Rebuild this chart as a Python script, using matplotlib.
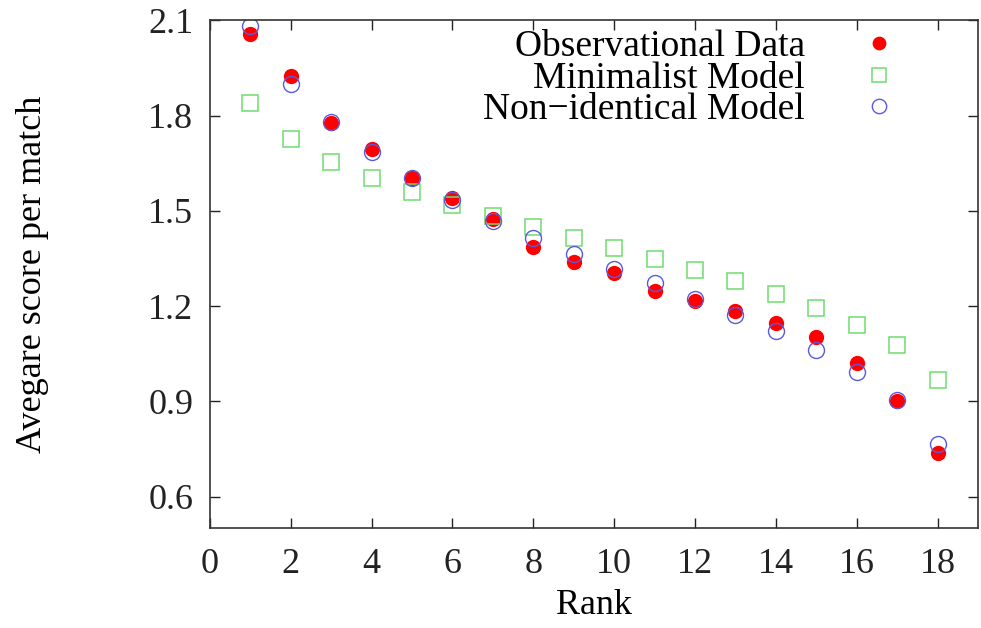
import matplotlib
matplotlib.use("Agg")
import matplotlib.pyplot as plt
import numpy as np

# rank 1..18
rank = np.arange(1, 19)

observed = [2.056, 1.924, 1.775, 1.694, 1.604, 1.539, 1.473, 1.385, 1.340,
            1.304, 1.248, 1.217, 1.183, 1.145, 1.101, 1.020, 0.901, 0.738]
minimalist = [1.838, 1.726, 1.653, 1.604, 1.559, 1.517, 1.485, 1.448, 1.415,
              1.382, 1.348, 1.314, 1.278, 1.238, 1.194, 1.141, 1.076, 0.967]
non_identical = [2.082, 1.899, 1.780, 1.685, 1.602, 1.533, 1.469, 1.415, 1.364,
                 1.317, 1.271, 1.221, 1.173, 1.122, 1.062, 0.993, 0.904, 0.764]

x_ticks = [0, 2, 4, 6, 8, 10, 12, 14, 16, 18]
y_ticks = [0.6, 0.9, 1.2, 1.5, 1.8, 2.1]

plt.rcParams["font.family"] = ["Liberation Serif", "DejaVu Serif"]
plt.rcParams["font.size"] = 26

fig = plt.figure(figsize=(9.81, 6.28), dpi=100)
ax = fig.add_axes([0.2139, 0.1588, 0.9969 - 0.2139, 0.9677 - 0.1588])

ax.plot(rank, observed, linestyle="none", marker="o", markersize=11,
        color="#ff0000", markeredgewidth=0, label="Observational Data")
ax.plot(rank, minimalist, linestyle="none", marker="s", markersize=11,
        markerfacecolor="none", markeredgecolor="#6ddc6d", markeredgewidth=1.1,
        label="Minimalist Model")
ax.plot(rank, non_identical, linestyle="none", marker="o", markersize=11.5,
        markerfacecolor="none", markeredgecolor="#5a5ae0", markeredgewidth=1.0,
        label="Non\u2212identical Model")

ax.set_xlim(0, 19)
ax.set_ylim(0.5, 2.1)
ax.set_xticks(x_ticks)
ax.set_yticks(y_ticks)
ax.set_yticklabels([f"{v:.1f}" for v in y_ticks])

ax.tick_params(direction="in", top=True, right=True, length=7, width=1,
               colors="#222222")
ax.tick_params(axis="x", pad=14)
ax.tick_params(axis="y", pad=12)
for s in ax.spines.values():
    s.set_linewidth(1.2)
    s.set_color("#333333")

ax.set_xlabel("Rank", labelpad=6)
ax.set_ylabel("Avegare score per match")
ax.yaxis.set_label_coords(-0.21, 0.5)

leg = ax.legend(loc="upper right", markerfirst=False, frameon=False,
                handletextpad=1.47, labelspacing=-0.08, borderaxespad=0.0,
                bbox_to_anchor=(0.915, 1.011), handlelength=1.0, fontsize=27,
                markerscale=0.9)
# right-align the legend rows like gnuplot
for col in leg._legend_handle_box.get_children():
    col.align = "right"

fig.savefig("out.png", dpi=100)
